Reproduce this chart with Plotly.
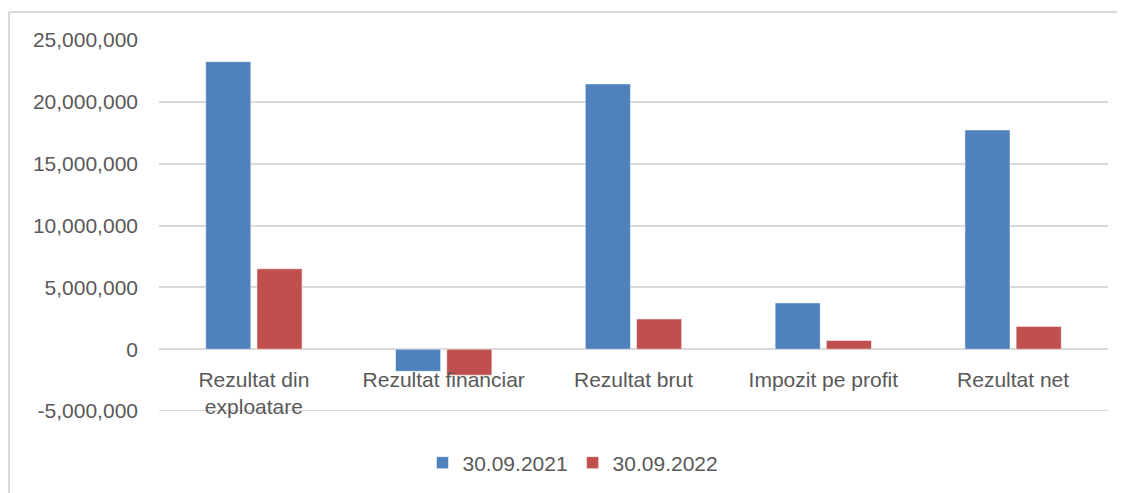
import plotly.graph_objs as go

BLUE = 'rgba(79, 129, 189, 1.0)'
RED = 'rgba(192, 80, 77, 1.0)'
GRID = 'rgba(217, 217, 217, 1.0)'
TEXT = 'rgba(89, 89, 89, 1.0)'
FONT = 'Liberation Sans, Arial, sans-serif'

# data
categories = ['Rezultat din<br>exploatare', 'Rezultat financiar', 'Rezultat brut',
              'Impozit pe profit', 'Rezultat net']
values_2021 = [23250000, -1790000, 21450000, 3740000, 17720000]
values_2022 = [6500000, -2100000, 2440000, 700000, 1840000]
series_names = ['30.09.2021', '30.09.2022']

y_ticks = [-5000000, 0, 5000000, 10000000, 15000000, 20000000, 25000000]
y_tick_labels = ['-5,000,000', '0', '5,000,000', '10,000,000', '15,000,000',
                 '20,000,000', '25,000,000']

# the html page body has an 8px margin, so screen px = figure px + 8
PAGE = 8
W, H = 1125, 493
L, R, T, B = 151, 25, 32, 90


def px_to_paper_x(px):
    return (px - PAGE - L) / (W - L - R)


def px_to_paper_y(py):
    return (H - B - (py - PAGE)) / (H - T - B)


bar_edge = dict(color='rgba(255, 255, 255, 0.5)', width=1)

fig = go.Figure()
fig.add_trace(go.Bar(x=categories, y=values_2021, name=series_names[0],
                     marker=dict(color=BLUE, line=bar_edge)))
fig.add_trace(go.Bar(x=categories, y=values_2022, name=series_names[1],
                     marker=dict(color=RED, line=bar_edge)))

fig.update_layout(
    width=W, height=H,
    margin=dict(l=L, r=R, t=T, b=B, pad=0),
    paper_bgcolor='white', plot_bgcolor='white',
    font=dict(family=FONT, size=21, color=TEXT),
    barmode='group', bargap=0.46, bargroupgap=0.12,
    showlegend=True,
    legend=dict(orientation='h', x=px_to_paper_x(573), xanchor='center',
                y=px_to_paper_y(463), yanchor='middle',
                font=dict(family=FONT, size=21, color=TEXT),
                itemwidth=30, tracegroupgap=0),
    xaxis=dict(anchor='free', position=1 / 6, showgrid=False, showline=False,
               zeroline=False, ticks='', ticklabelstandoff=16),
    yaxis=dict(range=[-5000000, 25000000], tickvals=y_ticks, ticktext=y_tick_labels,
               showgrid=True, gridcolor=GRID, gridwidth=2,
               zeroline=True, zerolinecolor=GRID, zerolinewidth=2,
               showline=False, ticks='', ticklabelstandoff=20),
    shapes=[
        # bottom gridline at -5,000,000 (plotly skips the one on the range edge)
        dict(type='line', xref='paper', yref='y', x0=0, x1=1,
             y0=y_ticks[0], y1=y_ticks[0], line=dict(color=GRID, width=2),
             layer='below'),
        # chart frame: top and left edges
        dict(type='line', xref='paper', yref='paper',
             x0=px_to_paper_x(9), x1=px_to_paper_x(1130),
             y0=px_to_paper_y(12), y1=px_to_paper_y(12),
             line=dict(color=GRID, width=2)),
        dict(type='line', xref='paper', yref='paper',
             x0=px_to_paper_x(9), x1=px_to_paper_x(9),
             y0=px_to_paper_y(12), y1=px_to_paper_y(500),
             line=dict(color=GRID, width=2)),
    ],
)

fig.write_html('out.html')
